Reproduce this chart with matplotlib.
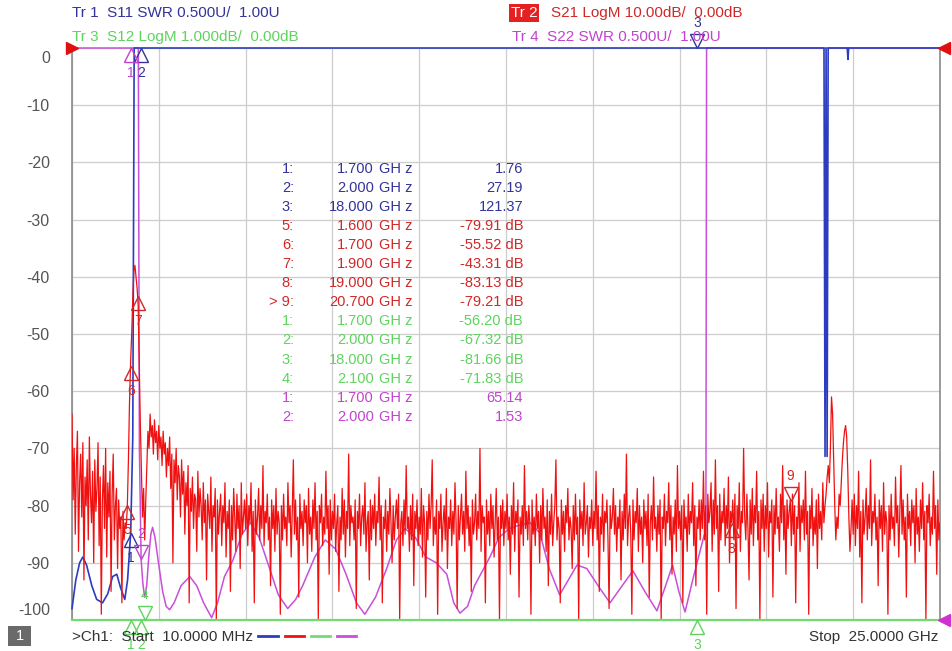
import numpy as np
import matplotlib
matplotlib.use("Agg")
import matplotlib.pyplot as plt
from matplotlib.lines import Line2D
from matplotlib.patches import Rectangle
from matplotlib.transforms import offset_copy, ScaledTranslation

plt.rcParams['font.family'] = ['Liberation Sans', 'DejaVu Sans']

# sweep: 10 MHz .. 25 GHz
f_start = 0.01
f_stop = 25.0

# Tr2  S21 LogM (dB) (801 points)
s21_db = [
    -64, -79, -70, -85, -73, -67, -88, -76, -71, -82, -69, -93, -75, -80, -72, -86, -68, -78, -83, -74,
    -90, -72, -81, -77, -69, -87, -75, -99, -79, -73, -84, -70, -89, -76, -82, -74, -95, -78, -71, -86,
    -80, -77, -91, -79, -84, -82, -97, -81, -86, -83, -84, -80, -72, -62, -55, -50, -44, -39, -38, -40,
    -42, -45, -56, -66, -74, -82, -77, -86, -79, -73, -67, -70, -64, -68, -66, -71, -65, -69, -67, -72,
    -66, -70, -68, -73, -67, -71, -69, -75, -70, -73, -68, -77, -71, -90, -72, -76, -70, -79, -73, -75,
    -82, -72, -78, -74, -85, -76, -80, -73, -97, -77, -81, -75, -84, -78, -79, -88, -74, -82, -77, -80,
    -86, -76, -83, -79, -93, -78, -81, -84, -75, -88, -80, -82, -77, -100, -79, -85, -81, -78, -87, -80,
    -83, -76, -89, -81, -84, -79, -95, -80, -86, -77, -82, -88, -78, -84, -80, -91, -76, -85, -82, -79,
    -84, -78, -87, -80, -83, -76, -88, -81, -97, -79, -85, -82, -77, -86, -80, -84, -73, -87, -81, -83,
    -78, -86, -82, -94, -79, -84, -80, -88, -77, -85, -81, -83, -99, -80, -86, -78, -84, -82, -87, -76,
    -83, -80, -89, -81, -72, -85, -79, -86, -82, -96, -78, -84, -81, -87, -79, -83, -80, -90, -77, -85,
    -82, -88, -79, -84, -76, -86, -81, -100, -80, -83, -78, -87, -82, -85, -74, -84, -80, -92, -79, -86,
    -81, -84, -78, -88, -83, -80, -95, -82, -86, -77, -85, -79, -89, -81, -84, -71, -87, -80, -83, -82,
    -86, -79, -98, -81, -84, -78, -87, -82, -80, -85, -76, -88, -83, -81, -93, -79, -86, -80, -84, -78,
    -87, -81, -83, -75, -86, -80, -97, -82, -84, -79, -88, -81, -85, -77, -83, -90, -80, -86, -82, -79,
    -84, -78, -100, -83, -81, -87, -79, -85, -73, -84, -82, -88, -80, -86, -78, -94, -81, -84, -79, -87,
    -82, -85, -77, -89, -80, -83, -96, -81, -86, -78, -84, -80, -72, -87, -82, -85, -79, -99, -81, -84,
    -78, -88, -83, -80, -86, -77, -91, -82, -84, -79, -87, -81, -85, -76, -83, -98, -80, -86, -82, -78,
    -85, -81, -88, -74, -84, -80, -87, -82, -95, -79, -85, -83, -78, -86, -81, -84, -70, -88, -80, -83,
    -82, -97, -79, -85, -81, -87, -78, -84, -80, -89, -83, -77, -86, -82, -100, -80, -84, -79, -87, -81,
    -84, -78, -86, -82, -92, -80, -85, -76, -88, -81, -83, -79, -96, -82, -85, -80, -87, -73, -84, -81,
    -86, -80, -83, -99, -79, -85, -82, -87, -78, -84, -81, -90, -80, -86, -77, -84, -82, -88, -79, -94,
    -81, -85, -78, -87, -83, -80, -72, -86, -82, -84, -97, -79, -85, -81, -88, -80, -83, -77, -86, -82,
    -84, -91, -80, -86, -78, -85, -82, -100, -79, -84, -81, -87, -76, -85, -83, -80, -89, -82, -84, -79,
    -87, -81, -84, -74, -86, -80, -95, -82, -85, -78, -88, -81, -83, -79, -86, -98, -80, -84, -82, -77,
    -85, -80, -88, -82, -84, -79, -93, -81, -86, -78, -84, -71, -87, -82, -80, -85, -99, -79, -86, -81,
    -83, -77, -88, -80, -85, -82, -90, -79, -84, -81, -87, -78, -96, -83, -80, -86, -75, -84, -82, -88,
    -80, -85, -79, -100, -82, -84, -78, -87, -81, -83, -76, -86, -80, -92, -82, -85, -79, -88, -73, -84,
    -81, -86, -80, -97, -79, -84, -82, -88, -78, -85, -81, -83, -76, -87, -80, -94, -82, -84, -79, -86,
    -79, -84, -74, -86, -80, -99, -78, -83, -81, -76, -88, -79, -85, -72, -84, -80, -95, -78, -86, -81,
    -83, -77, -87, -80, -84, -75, -90, -81, -83, -79, -86, -78, -98, -80, -84, -76, -88, -81, -83, -70,
    -82, -86, -78, -84, -93, -79, -85, -77, -87, -80, -83, -74, -86, -81, -100, -79, -84, -78, -88, -80,
    -84, -76, -89, -81, -83, -79, -96, -80, -85, -77, -84, -82, -88, -78, -83, -73, -86, -80, -92, -79,
    -84, -81, -79, -87, -78, -85, -80, -97, -82, -84, -76, -88, -80, -83, -79, -86, -74, -85, -81, -99,
    -80, -84, -77, -87, -82, -85, -79, -91, -78, -84, -81, -86, -76, -83, -80, -78, -75, -73, -76, -70,
    -61, -64, -72, -80, -86, -82, -84, -78, -80, -76, -72, -69, -67, -66, -68, -74, -82, -88, -84, -79,
    -85, -78, -87, -80, -84, -74, -89, -81, -97, -79, -85, -82, -77, -86, -80, -84, -72, -87, -81, -83,
    -78, -86, -82, -94, -79, -84, -80, -88, -76, -85, -81, -83, -99, -80, -86, -78, -84, -82, -87, -75,
    -83, -80, -89, -81, -73, -85, -79, -86, -82, -96, -78, -84, -81, -87, -79, -83, -80, -90, -77, -85,
    -82, -88, -79, -84, -76, -86, -81, -100, -80, -83, -78, -87, -82, -85, -74, -84, -80, -92, -79, -86,
    -83,
]

# Tr1  S11 SWR
s11_f = [0.01, 0.12, 0.23, 0.32, 0.43, 0.58, 0.72, 0.89, 1.04, 1.18, 1.30, 1.41, 1.53, 1.61, 1.70,
         1.76, 1.80, 2.00, 10.0, 18.0, 21.66, 21.69, 21.72, 21.75, 21.78, 22.33, 22.35, 22.37, 25.0]
s11_swr = [1.10, 1.35, 1.50, 1.55, 1.48, 1.30, 1.18, 1.15, 1.23, 1.38, 1.40, 1.28, 1.18, 1.35, 1.76,
           2.6, 9.0, 27.19, 60.0, 121.37, 40.0, 2.43, 8.0, 2.43, 40.0, 40.0, 5.9, 40.0, 50.0]

# Tr4  S22 SWR
s22_f = [0.01, 1.70, 1.92, 1.95, 2.00, 2.05, 2.10, 2.16, 2.22, 2.28, 2.33, 2.40, 2.50, 2.62, 2.72,
         2.82, 2.95, 3.15, 3.40, 3.60, 3.80, 4.03, 4.20, 4.40, 4.64, 4.90, 5.15, 5.40, 5.70, 5.95,
         6.22, 6.45, 6.65, 7.00, 7.30, 7.60, 7.90, 8.20, 8.44, 8.75, 9.07, 9.35, 9.60, 9.90, 10.20,
         10.50, 10.80, 11.00, 11.18, 11.40, 11.60, 12.04, 12.30, 12.60, 12.90, 13.20, 13.48, 13.75,
         14.05, 14.30, 14.55, 14.83, 15.20, 15.50, 15.85, 16.16, 16.50, 16.85, 17.10, 17.30, 17.48,
         17.66, 17.88, 18.09, 18.26, 18.28, 25.0]
s22_swr = [70, 65.14, 20, 2.5, 1.53, 1.32, 1.2, 1.3, 1.55, 1.75, 1.81, 1.72, 1.5, 1.25, 1.12,
           1.09, 1.15, 1.3, 1.38, 1.3, 1.15, 1.02, 1.15, 1.38, 1.52, 1.75, 1.85, 1.72, 1.45, 1.22,
           1.1, 1.18, 1.3, 1.55, 1.7, 1.62, 1.4, 1.15, 1.05, 1.2, 1.45, 1.7, 1.8, 1.72, 1.55,
           1.5, 1.4, 1.15, 1.06, 1.12, 1.3, 1.55, 1.72, 1.8, 1.83, 1.85, 1.76, 1.45,
           1.22, 1.35, 1.48, 1.45, 1.28, 1.15, 1.3, 1.43, 1.25, 1.08, 1.3, 1.48, 1.25,
           1.07, 1.35, 1.6, 1.8, 40, 60]

# Tr3  S12 LogM (dB)
s12_f = [0.01, 1.7, 2.0, 2.1, 18.0, 25.0]
s12_db = [-70.0, -56.20, -67.32, -71.83, -81.66, -80.0]

# markers (from the marker table)
mk_s11_f = [1.7, 2.0, 18.0]
mk_s11_v = [1.76, 27.19, 121.37]
mk_s21_n = [5, 6, 7, 8, 9]
mk_s21_f = [1.6, 1.7, 1.9, 19.0, 20.7]
mk_s21_v = [-79.91, -55.52, -43.31, -83.13, -79.21]
mk_s12_f = [1.7, 2.0, 18.0, 2.1]
mk_s12_v = [-56.20, -67.32, -81.66, -71.83]
mk_s22_f = [1.7, 2.0]
mk_s22_v = [65.14, 1.53]

BLUE = '#2b3cc0'
RED = '#f01010'
GREEN = '#72dc72'
MAG = '#c84fd8'
T_BLUE = '#33339a'
T_RED = '#d02828'
T_GREEN = '#5fd35f'
T_MAG = '#c044cc'
GREY = '#555555'


def swr_grid(v):
    # ref 1.00U on the bottom line, 0.500U/div
    return np.clip(-100 + (np.asarray(v, float) - 1.0) / 0.5 * 10, -100, 0)


def logm_grid(v, per_div):
    # ref 0.00dB on the top line
    return np.clip(np.asarray(v, float) / per_div * 10, -100, 0)


W, H = 952, 651
fig = plt.figure(figsize=(W / 100, H / 100), dpi=100)
fig.patch.set_facecolor('white')
ax = fig.add_axes([72 / W, 1 - 620 / H, 868 / W, 572 / H])
ax.set_xlim(f_start, f_stop)
ax.set_ylim(-100, 0)
ax.set_xticks(np.linspace(f_start, f_stop, 11))
ax.set_yticks(np.arange(-100, 1, 10))
ax.set_xticklabels([])
ax.set_yticklabels([str(v) for v in np.arange(-100, 1, 10)])
ax.tick_params(axis='both', length=0)
ax.tick_params(axis='y', pad=16, labelsize=11.5, labelcolor=GREY)
ax.grid(True, color='#cdcdcd', lw=0.9)
ax.set_axisbelow(True)
for s in ['left', 'right']:
    ax.spines[s].set_color('#8a8a8a')
    ax.spines[s].set_linewidth(1.2)
for s in ['top', 'bottom']:
    ax.spines[s].set_visible(False)

# end labels sit inside the grid like on the instrument
labs = ax.get_yticklabels()
labs[0].set_transform(labs[0].get_transform() + ScaledTranslation(0, 0.11, fig.dpi_scale_trans))
labs[-1].set_transform(labs[-1].get_transform() + ScaledTranslation(0, -0.09, fig.dpi_scale_trans))

f21 = np.linspace(f_start, f_stop, len(s21_db))
ax.plot(s22_f, swr_grid(s22_swr), color=MAG, lw=1.1, zorder=3, clip_on=False)
ax.plot(s11_f, swr_grid(s11_swr), color=BLUE, lw=1.2, zorder=4, clip_on=False)
ax.plot(f21, logm_grid(s21_db, 10.0), color=RED, lw=0.9, zorder=5)
ax.plot(s12_f, logm_grid(s12_db, 1.0), color=GREEN, lw=1.6, zorder=6, clip_on=False)


def mark(f, y, lab, color, above):
    # open triangle with the tip on the trace, number beside it
    sgn = 1 if above else -1
    tr = offset_copy(ax.transData, fig=fig, y=5 * sgn, units='points')
    ax.plot([f], [y], marker='v' if above else '^', ms=10, mfc='none', mec=color, mew=1.0,
            transform=tr, clip_on=False, zorder=8)
    tt = offset_copy(ax.transData, fig=fig, y=18 * sgn, units='points')
    ax.text(f, y, lab, color=color, fontsize=10, ha='center', va='center',
            transform=tt, clip_on=False, zorder=8)


for i, (f, v) in enumerate(zip(mk_s21_f, mk_s21_v)):
    mark(f, logm_grid(v, 10.0), str(mk_s21_n[i]), T_RED, mk_s21_n[i] == 9)
for i, (f, v) in enumerate(zip(mk_s11_f, mk_s11_v)):
    mark(f, swr_grid(v), str(i + 1), T_BLUE, i == 2)
for i, (f, v) in enumerate(zip(mk_s22_f, mk_s22_v)):
    y = swr_grid(v)
    mark(f, y, str(i + 1), T_MAG, y > -100 and y < 0)
for i, (f, v) in enumerate(zip(mk_s12_f, mk_s12_v)):
    mark(f, logm_grid(v, 1.0), str(i + 1), T_GREEN, i == 3)

# reference position arrows
ax.plot([0], [1], marker='>', ms=9, color='#e01010', transform=ax.transAxes,
        clip_on=False, zorder=9)
ax.plot([1.005], [1], marker='<', ms=9, color='#e01010', transform=ax.transAxes,
        clip_on=False, zorder=9)
ax.plot([1.005], [0], marker='<', ms=9, color='#d030d0', transform=ax.transAxes,
        clip_on=False, zorder=9)


def ftext(x, y, s, **kw):
    return fig.text(x / W, 1 - y / H, s, va='center', **kw)


# header
ftext(72, 13, 'Tr 1  S11 SWR 0.500U/  1.00U', color=T_BLUE, fontsize=11)
ftext(72, 37, 'Tr 3  S12 LogM 1.000dB/  0.00dB', color=T_GREEN, fontsize=11)
ftext(511, 13, 'Tr 2', color='white', fontsize=11,
      bbox=dict(boxstyle='square,pad=0.12', fc='#e42020', ec='none'))
ftext(551, 13, 'S21 LogM 10.00dB/  0.00dB', color=T_RED, fontsize=11)
ftext(512, 37, 'Tr 4  S22 SWR 0.500U/  1.00U', color=T_MAG, fontsize=11)

# marker table
rows = []
for i, (f, v) in enumerate(zip(mk_s11_f, mk_s11_v)):
    rows.append((f'{i + 1}:', f, f'{v:.2f}', T_BLUE))
for n, f, v in zip(mk_s21_n, mk_s21_f, mk_s21_v):
    rows.append((('> ' if n == 9 else '') + f'{n}:', f, f'{v:.2f} dB', T_RED))
for i, (f, v) in enumerate(zip(mk_s12_f, mk_s12_v)):
    rows.append((f'{i + 1}:', f, f'{v:.2f} dB', T_GREEN))
for i, (f, v) in enumerate(zip(mk_s22_f, mk_s22_v)):
    rows.append((f'{i + 1}:', f, f'{v:.2f}', T_MAG))

for k, (num, f, val, c) in enumerate(rows):
    y = 169 + k * 19.05
    ftext(294, y, num, color=c, fontsize=10.5, ha='right')
    ftext(374, y, f'{f:.3f}', color=c, fontsize=10.5, ha='right')
    ftext(379, y, 'GH z', color=c, fontsize=10.5, ha='left')
    ftext(523, y, val, color=c, fontsize=10.5, ha='right')

# footer
fig.patches.append(Rectangle((8 / W, 1 - 646 / H), 23 / W, 20 / H, transform=fig.transFigure,
                             fc='#6a6a6a', ec='none'))
ftext(19.5, 636, '1', color='white', fontsize=10.5, ha='center')
ftext(72, 637, '>Ch1:  Start  10.0000 MHz', color='#333333', fontsize=11)
for (x0, x1), c in zip([(258, 278), (285, 304), (311, 330), (337, 356)], [BLUE, RED, GREEN, MAG]):
    fig.add_artist(Line2D([x0 / W, x1 / W], [1 - 636 / H] * 2, color=c, lw=2))
ftext(938, 637, 'Stop  25.0000 GHz', color='#333333', fontsize=11, ha='right')

fig.savefig('out.png', dpi=100, facecolor='white')
